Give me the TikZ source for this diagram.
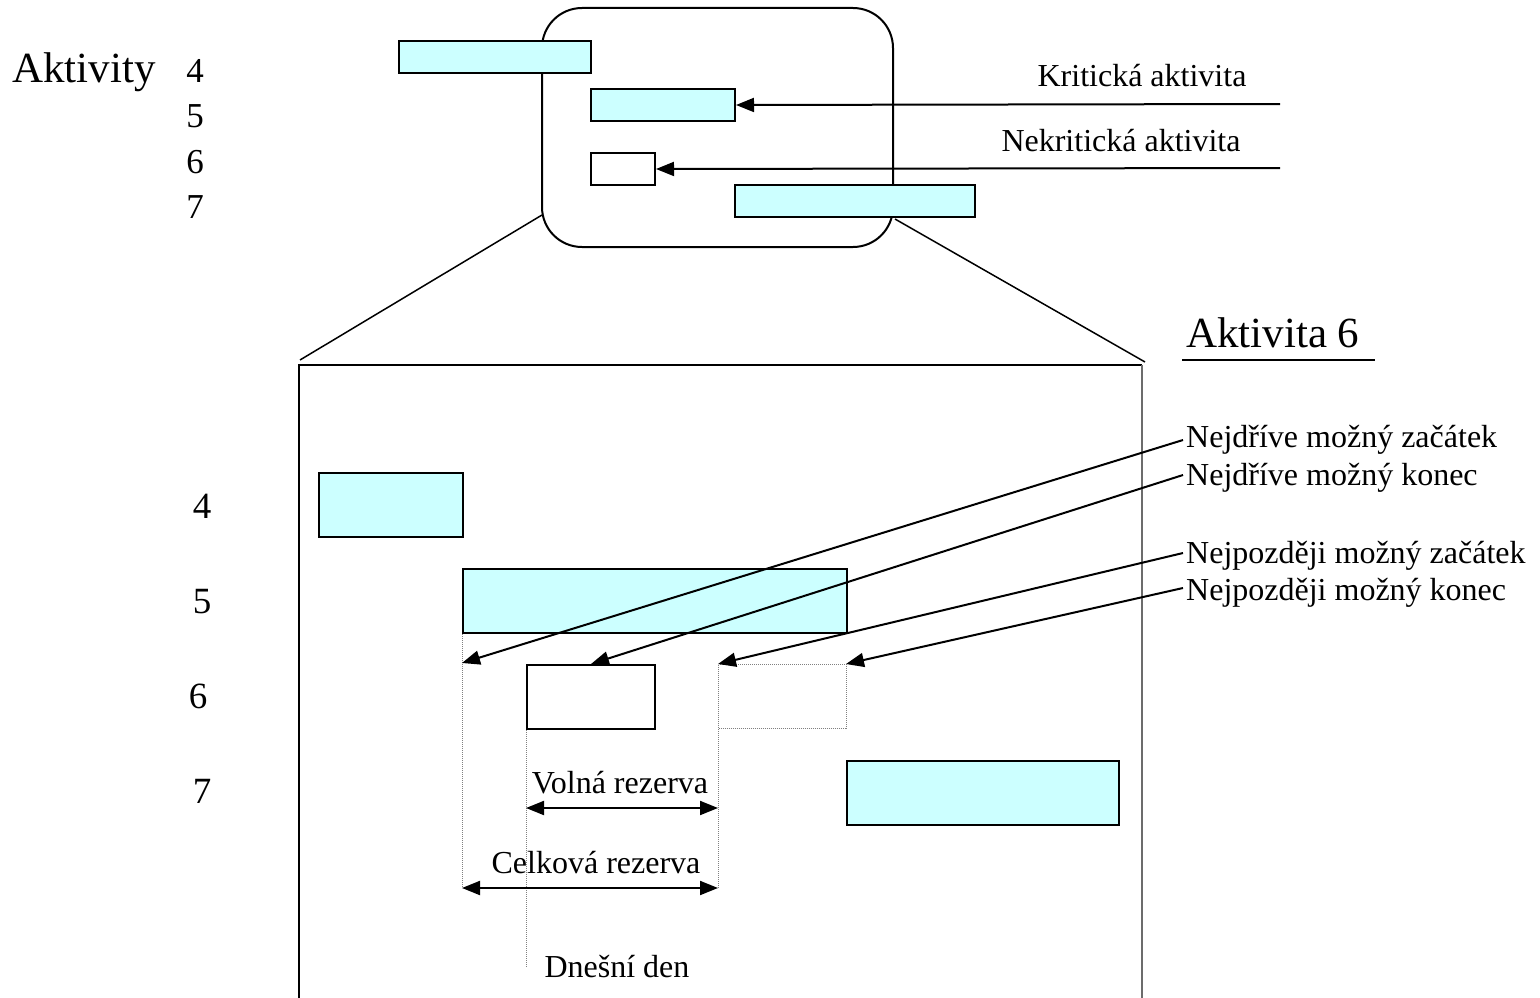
\documentclass[tikz,border=0pt]{standalone}
\usepackage{fontspec}
\setmainfont{Liberation Serif}
\usetikzlibrary{arrows.meta}
\definecolor{barcyan}{HTML}{CCFFFF}
\begin{document}
\begin{tikzpicture}[x=1pt,y=-1pt,
  sz/.style 2 args={minimum width=#1pt, minimum height=#2pt, inner sep=0pt, anchor=north west},
  bar/.style={draw, line width=2pt, fill=barcyan},
  wbar/.style={draw, line width=2pt, fill=white},
  ghost/.style={draw=gray, densely dotted, line width=1pt},
  lbl/.style={font=\fontsize{32}{38}\selectfont, inner sep=0pt},
  big/.style={font=\fontsize{43}{50}\selectfont, inner sep=0pt},
  num/.style={font=\fontsize{35}{42}\selectfont, inner sep=0pt},
  bnum/.style={font=\fontsize{37}{44}\selectfont, inner sep=0pt},
  arr/.style={line width=2pt, -{Triangle[length=18pt,width=14pt]}},
  darr/.style={line width=2pt, {Triangle[length=18pt,width=14pt]}-{Triangle[length=18pt,width=14pt]}},
  guide/.style={gray, densely dotted, line width=1pt},
  frame/.style={line width=1.5pt}]
\useasboundingbox (0,0) rectangle (1540,998);

% ---------- upper overview ----------
\node[big, anchor=base west] (akt) at (12,83) {Aktivity};
\node[num, anchor=base] (n4) at (195,83) {4};
\node[num, anchor=base] (n5) at (195,128) {5};
\node[num, anchor=base] (n6) at (195,173) {6};
\node[num, anchor=base] (n7) at (195,218) {7};

\draw[line width=2pt, rounded corners=40pt] (542,8) rectangle (893,247);
\coordinate (rl) at (542,215);
\coordinate (rr) at (895,219);

\node[bar, sz={192}{32}] (t4) at (398,40) {};
\node[bar, sz={144}{32}] (t5) at (590,88) {};
\node[wbar, sz={64}{32}] (t6) at (590,152) {};
\node[bar, sz={240}{32}] (t7) at (734,184) {};

\coordinate (kend) at (1280,104);
\coordinate (nend) at (1280,168);
\draw[arr] (kend) -- (t5.east);
\draw[arr] (nend) -- (t6.east);
\node[lbl, anchor=base] (krit) at (1142,87) {Kritická aktivita};
\node[lbl, anchor=base] (nekrit) at (1121,151) {Nekritická aktivita};

% ---------- zoom lines and frame ----------
\coordinate (fl) at (300,360);
\coordinate (fr) at (1145,362);
\draw[line width=1.5pt] (rl) -- (fl);
\draw[line width=1.5pt] (rr) -- (fr);
\coordinate (ftl) at (299,365);
\coordinate (ftr) at (1142,365);
\coordinate (fbl) at (299,998);
\coordinate (fbr) at (1142,998);
\draw[frame] (fbl) -- (ftl) -- (ftr);
\draw[line width=2pt, gray!85!black] (ftr) -- (fbr);

\node[big, anchor=base west] (akt6) at (1186,347) {Aktivita 6};
\coordinate (ul) at (1182,360);
\coordinate (ur) at (1375,360);
\draw[line width=2pt] (ul) -- (ur);

% ---------- lower detail ----------
\node[bnum, anchor=base] (m4) at (202,518) {4};
\node[bnum, anchor=base] (m5) at (202,613) {5};
\node[bnum, anchor=base] (m6) at (198,708) {6};
\node[bnum, anchor=base] (m7) at (202,803) {7};

\node[bar, sz={144}{64}] (l4) at (318,472) {};
\node[bar, sz={384}{64}] (l5) at (462,568) {};
\node[wbar, sz={128}{64}] (l6) at (526,664) {};
\node[ghost, sz={128}{64}] (g6) at (718,664) {};
\node[bar, sz={272}{64}] (l7) at (846,760) {};

% guide lines
\coordinate (c1) at (462,888);
\coordinate (c2) at (718,888);
\coordinate (v1) at (526,808);
\coordinate (v2) at (718,808);
\coordinate (dn) at (526,967);
\draw[guide] (l5.south west) -- (c1);
\draw[guide] (l6.south west) -- (dn);
\draw[guide] (g6.south west) -- (c2);

\draw[darr] (v1) -- (v2);
\draw[darr] (c1) -- (c2);
\node[lbl, anchor=base] (volna) at (620,793) {Volná rezerva};
\node[lbl, anchor=base] (celk) at (596,873) {Celková rezerva};
\node[lbl, anchor=base] (dnes) at (617,977) {Dnešní den};

% labels
\node[lbl, anchor=base west] (es) at (1186,447) {Nejdříve možný začátek};
\node[lbl, anchor=base west] (ef) at (1186,485) {Nejdříve možný konec};
\node[lbl, anchor=base west] (ls) at (1186,563) {Nejpozději možný začátek};
\node[lbl, anchor=base west] (lf) at (1186,600) {Nejpozději možný konec};

\coordinate (es0) at (1183,440);
\coordinate (ef0) at (1183,475);
\coordinate (ls0) at (1183,553);
\coordinate (lf0) at (1183,588);
\coordinate (est) at (462,663);
\coordinate (eft) at (591,664);
\coordinate (lst) at (718,664);
\coordinate (lft) at (846,664);
\draw[arr] (es0) -- (est);
\draw[arr] (ef0) -- (eft);
\draw[arr] (ls0) -- (lst);
\draw[arr] (lf0) -- (lft);
\end{tikzpicture}
\end{document}
